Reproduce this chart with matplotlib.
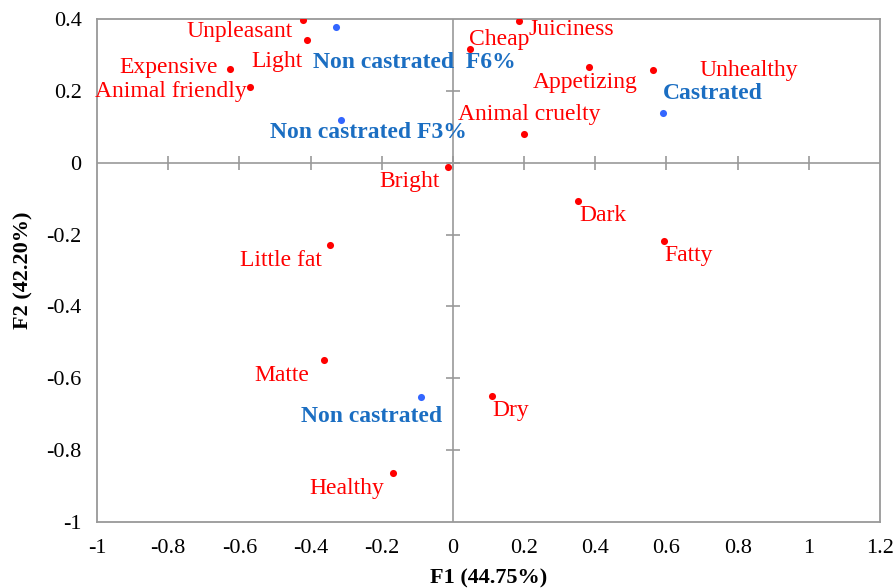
import matplotlib
matplotlib.use("Agg")
import matplotlib.pyplot as plt
import numpy as np

plt.rcParams['font.family'] = ['Liberation Serif', 'DejaVu Serif']
plt.rcParams['axes.unicode_minus'] = False

# Attribute points (red)
attr_names = ["Unpleasant", "Light", "Expensive", "Animal friendly", "Cheap",
              "Juiciness", "Appetizing", "Unhealthy", "Animal cruelty", "Bright",
              "Dark", "Fatty", "Little fat", "Matte", "Dry", "Healthy"]
attr_x = [-0.421, -0.410, -0.627, -0.570, 0.049, 0.187, 0.382, 0.562, 0.199,
          -0.013, 0.351, 0.593, -0.345, -0.362, 0.111, -0.168]
attr_y = [0.397, 0.342, 0.261, 0.211, 0.317, 0.395, 0.267, 0.258, 0.080,
          -0.012, -0.107, -0.218, -0.229, -0.549, -0.650, -0.864]
# label anchor (left edge, vertical centre)
attr_lx = [-0.748, -0.565, -0.937, -1.007, 0.046, 0.213, 0.224, 0.694, 0.015,
           -0.207, 0.354, 0.593, -0.599, -0.559, 0.111, -0.404]
attr_ly = [0.364, 0.283, 0.264, 0.197, 0.342, 0.372, 0.222, 0.258, 0.133,
           -0.051, -0.146, -0.257, -0.271, -0.591, -0.689, -0.906]

# Product points (blue)
prod_names = ["Non castrated  F6%", "Non castrated F3%", "Castrated", "Non castrated"]
prod_x = [-0.328, -0.314, 0.590, -0.089]
prod_y = [0.378, 0.119, 0.138, -0.653]
prod_lx = [-0.393, -0.514, 0.590, -0.427]
prod_ly = [0.278, 0.083, 0.194, -0.706]

xticks = [-1, -0.8, -0.6, -0.4, -0.2, 0, 0.2, 0.4, 0.6, 0.8, 1, 1.2]
yticks = [-1, -0.8, -0.6, -0.4, -0.2, 0, 0.2, 0.4]
xtick_labels = ["-1", "-0.8", "-0.6", "-0.4", "-0.2", "0", "0.2", "0.4", "0.6", "0.8", "1", "1.2"]
ytick_labels = ["-1", "-0.8", "-0.6", "-0.4", "-0.2", "0", "0.2", "0.4"]

fig = plt.figure(figsize=(8.94, 5.88), dpi=100)
ax = fig.add_axes([97/894, 1-522/588, (880-97)/894, (522-19)/588])
ax.set_xlim(-1, 1.2)
ax.set_ylim(-1, 0.4)

grey = "#999999"
for s in ax.spines.values():
    s.set_color(grey)
    s.set_linewidth(1.3)

ax.axhline(0, color=grey, lw=1.2, zorder=1)
ax.axvline(0, color=grey, lw=1.2, zorder=1)
# tick marks on the zero lines
ax.plot(xticks[1:-1], [0]*len(xticks[1:-1]), ls='none', marker='|', ms=10, mew=1.2, color=grey, zorder=1)
ax.plot([0]*len(yticks[1:-1]), yticks[1:-1], ls='none', marker='_', ms=10, mew=1.2, color=grey, zorder=1)

ax.set_xticks(xticks)
ax.set_xticklabels(xtick_labels)
ax.set_yticks(yticks)
ax.set_yticklabels(ytick_labels)
ax.tick_params(axis='x', length=0, pad=12, labelsize=16)
ax.tick_params(axis='y', length=0, pad=11, labelsize=16)

red = "#FF0000"
ax.scatter(attr_x, attr_y, s=26, color=red, zorder=3, linewidths=0)
for n, lx, ly in zip(attr_names, attr_lx, attr_ly):
    ax.text(lx, ly, n, color=red, fontsize=17, ha='left', va='center', zorder=4)

ax.scatter(prod_x, prod_y, s=26, color="#3366FF", zorder=3, linewidths=0)
for n, lx, ly in zip(prod_names, prod_lx, prod_ly):
    ax.text(lx, ly, n, color="#1B6EC2", fontsize=17, fontweight='bold',
            ha='left', va='center', zorder=4)

ax.set_xlabel("F1 (44.75%)", fontsize=16, fontweight='bold', labelpad=8)
ax.set_ylabel("F2 (42.20%)", fontsize=16, fontweight='bold', labelpad=9)

fig.savefig("out.png", dpi=100)
